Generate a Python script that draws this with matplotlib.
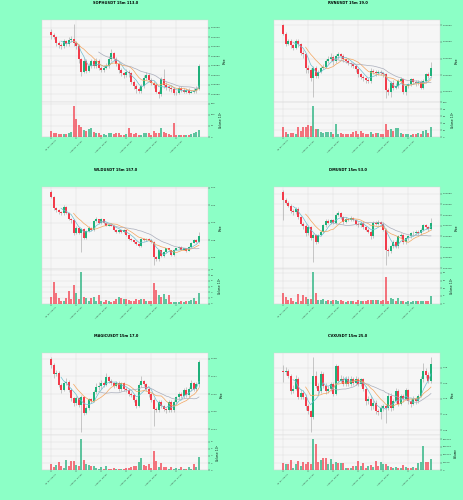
import matplotlib
matplotlib.use('Agg')
import matplotlib.pyplot as plt
import numpy as np
import pandas as pd
from matplotlib.ticker import MultipleLocator, FormatStrFormatter, FixedLocator

# ---------------- data ----------------
date_labels = ['Jul 31, 22:45', 'Aug 01, 01:15', 'Aug 01, 03:45',
               'Aug 01, 06:15', 'Aug 01, 08:45', 'Aug 01, 11:15']

# SOPHUSDT (prices in units of 1e-5, volume in units of 1e3)
soph_open = [4015,4012,4010,4004,4002,4001,4006,4003,4007,4008,
             4004,4001,3987,3974,3985,3975,3980,3985,3980,3985,
             3978,3976,3978,3980,3987,3993,3987,3982,3976,3972,
             3970,3974,3972,3963,3959,3956,3954,3959,3967,3970,
             3965,3962,3960,3953,3950,3966,3960,3958,3957,3956,
             3952,3951,3957,3955,3953,3955,3952,3953,3954,3956]
soph_close = [4012,4010,4004,4002,4001,4006,4003,4007,4008,4004,
              4001,3987,3974,3985,3975,3980,3985,3980,3985,3978,
              3976,3978,3980,3987,3993,3987,3982,3976,3972,3970,
              3974,3972,3963,3959,3956,3954,3959,3967,3970,3965,
              3962,3960,3953,3950,3966,3960,3958,3957,3956,3952,
              3951,3957,3955,3953,3955,3952,3953,3954,3956,3980]
soph_high = [4018,4014,4011,4006,4004,4008,4007,4010,4011,4024,
             4006,4003,3988,3988,3987,3983,3987,3987,3988,3987,
             3980,3981,3983,3990,3998,3994,3989,3984,3978,3974,
             3977,3976,3974,3965,3961,3958,3961,3970,3973,3972,
             3967,3964,3962,3955,3968,3977,3963,3960,3959,3958,
             3954,3959,3959,3957,3957,3957,3955,3957,3959,3982]
soph_low = [4008,4008,4001,3999,3998,3999,4001,4001,4005,4001,
            3998,3983,3969,3972,3972,3974,3978,3978,3978,3976,
            3973,3974,3977,3978,3985,3985,3980,3972,3969,3967,
            3968,3968,3961,3956,3952,3951,3952,3957,3965,3963,
            3960,3957,3951,3946,3948,3957,3955,3954,3953,3949,
            3949,3950,3953,3951,3951,3950,3951,3951,3952,3955]
soph_volume = [25,20,17,14,14,12,14,16,24,141,
               82,55,47,32,28,35,39,22,20,16,
               9,14,9,16,20,14,20,16,9,9,
               14,39,20,12,16,9,9,20,16,16,
               9,28,20,16,39,24,20,12,9,62,
               9,9,9,9,9,9,12,16,24,30]

# RVNUSDT (prices in units of 1e-6, volume in units of 1e5)
rvn_open = [15320,15310,15298,15301,15296,15293,15301,15297,15287,15285,
            15269,15266,15257,15269,15259,15264,15269,15270,15277,15279,
            15282,15277,15283,15285,15283,15279,15277,15275,15273,15271,
            15267,15261,15258,15256,15254,15253,15265,15264,15262,15264,
            15263,15261,15242,15240,15251,15245,15247,15253,15255,15239,
            15247,15249,15255,15252,15250,15252,15245,15253,15261,15259]
rvn_close = [15310,15298,15301,15296,15293,15301,15297,15287,15285,15269,
             15266,15257,15269,15259,15264,15269,15270,15277,15279,15282,
             15277,15283,15285,15283,15279,15277,15275,15273,15271,15267,
             15261,15258,15256,15254,15253,15265,15264,15262,15264,15263,
             15261,15242,15240,15251,15245,15247,15253,15255,15239,15247,
             15249,15255,15252,15250,15252,15245,15253,15261,15259,15268]
rvn_high = [15322,15312,15304,15303,15298,15303,15303,15299,15290,15287,
            15272,15268,15271,15271,15266,15271,15273,15280,15283,15287,
            15284,15285,15288,15287,15285,15280,15279,15276,15274,15272,
            15268,15263,15260,15258,15256,15268,15267,15266,15266,15266,
            15264,15263,15245,15253,15254,15250,15255,15258,15257,15249,
            15251,15257,15257,15254,15254,15254,15255,15263,15264,15276]
rvn_low = [15308,15295,15296,15293,15290,15291,15294,15284,15281,15262,
           15262,15253,15233,15256,15257,15262,15267,15268,15275,15277,
           15272,15275,15280,15280,15276,15274,15272,15270,15268,15264,
           15258,15255,15253,15251,15250,15251,15261,15259,15260,15260,
           15258,15232,15236,15233,15242,15243,15245,15250,15237,15236,
           15245,15247,15249,15247,15248,15243,15243,15251,15256,15257]
rvn_volume = [28,14,8,12,12,10,28,17,29,29,
              35,31,90,24,24,14,12,15,14,14,
              8,38,8,12,8,10,8,8,14,16,
              8,17,12,8,10,14,10,12,12,10,
              10,38,19,24,17,26,26,12,10,8,
              8,6,8,8,12,10,16,20,12,30]

# WLDUSDT (prices in units of 1e-4, volume in units of 1e6)
wld_open = [10356,10296,10165,10146,10124,10109,10184,10109,10045,10034,
            9884,9944,9884,9933,9831,9903,9944,9921,10026,10041,
            10000,10045,9996,9970,9981,9970,9921,9895,9914,9895,
            9914,9858,9820,9801,9783,9756,9734,9820,9801,9820,
            9809,9783,9606,9584,9689,9621,9670,9708,9689,9633,
            9696,9708,9726,9696,9708,9681,9726,9771,9809,9783]
wld_close = [10296,10165,10146,10124,10109,10184,10109,10045,10034,9884,
             9944,9884,9933,9831,9903,9944,9921,10026,10041,10000,
             10045,9996,9970,9981,9970,9921,9895,9914,9895,9914,
             9858,9820,9801,9783,9756,9734,9820,9801,9820,9809,
             9783,9606,9584,9689,9621,9670,9708,9689,9633,9696,
             9708,9726,9696,9708,9681,9726,9771,9809,9783,9846]
wld_high = [10371,10310,10180,10160,10135,10200,10190,10120,10060,10040,
            9960,9955,9945,9940,9915,9960,9955,10035,10065,10050,
            10060,10050,10005,9995,9990,9975,9930,9925,9920,9925,
            9920,9865,9830,9810,9795,9765,9830,9830,9830,9830,
            9815,9790,9620,9700,9695,9680,9715,9715,9695,9705,
            9715,9735,9735,9715,9715,9735,9780,9820,9815,9895]
wld_low = [10280,10150,10120,10100,10090,10095,10100,10030,10000,9860,
           9870,9870,9670,9815,9820,9895,9910,9910,10015,9985,
           9990,9985,9960,9960,9960,9910,9880,9885,9885,9885,
           9845,9805,9790,9770,9745,9720,9725,9790,9790,9795,
           9770,9520,9560,9570,9610,9610,9660,9680,9620,9625,
           9685,9700,9685,9690,9670,9675,9720,9765,9775,9775]
wld_volume = [2.3,7.5,3.8,1.9,1.1,1.1,1.9,4.4,1.7,6.5,
              3.8,1.7,11.0,2.5,1.9,1.1,2.1,2.3,0.8,2.9,
              0.8,0.7,1.3,1.1,0.7,0.8,1.7,2.3,2.1,1.7,
              1.7,1.3,1.1,1.1,1.7,1.3,1.7,1.7,1.1,0.8,
              1.1,7.2,4.7,2.9,2.3,3.5,1.7,2.9,0.7,0.5,
              0.7,0.5,0.8,0.5,0.8,1.1,1.3,1.9,1.1,3.8]

# DMUSDT (prices in units of 1e-5, volume in units of 1e6)
dmu_open = [24655,24635,24629,24622,24610,24607,24614,24595,24580,24574,
            24557,24571,24546,24553,24538,24553,24561,24576,24586,24582,
            24588,24582,24601,24604,24595,24584,24591,24589,24593,24589,
            24580,24576,24582,24572,24566,24561,24550,24582,24580,24584,
            24580,24566,24518,24515,24527,24538,24527,24550,24553,24536,
            24546,24551,24557,24559,24561,24557,24566,24576,24572,24568]
dmu_close = [24635,24629,24622,24610,24607,24614,24595,24580,24574,24557,
             24571,24546,24553,24538,24553,24561,24576,24586,24582,24588,
             24582,24601,24604,24595,24584,24591,24589,24593,24589,24580,
             24576,24582,24572,24566,24561,24550,24582,24580,24584,24580,
             24566,24518,24515,24527,24538,24527,24550,24553,24536,24546,
             24551,24557,24559,24561,24557,24566,24576,24572,24568,24582]
dmu_high = [24658,24640,24632,24626,24614,24618,24618,24598,24584,24578,
            24575,24574,24558,24556,24556,24565,24579,24592,24590,24592,
            24591,24604,24610,24607,24598,24595,24594,24597,24596,24592,
            24583,24585,24585,24575,24569,24564,24586,24585,24588,24587,
            24583,24569,24522,24530,24541,24541,24553,24557,24556,24549,
            24554,24560,24562,24564,24564,24569,24580,24580,24575,24594]
dmu_low = [24588,24625,24618,24606,24600,24603,24590,24576,24568,24552,
           24553,24542,24489,24533,24534,24550,24558,24573,24578,24578,
           24578,24579,24598,24591,24580,24581,24585,24586,24585,24576,
           24572,24573,24568,24562,24557,24545,24546,24576,24577,24576,
           24562,24483,24505,24510,24522,24522,24522,24546,24532,24532,
           24541,24547,24553,24555,24553,24553,24562,24567,24563,24566]
dmu_volume = [7,4.4,2.2,4,1.5,1.1,6.2,1.5,5.5,4.4,
              3.3,3.3,20.3,7,2.6,2.2,3.3,1.5,2.6,1.5,
              2.2,2.2,1.8,2.2,1.5,1.1,1.8,1.5,1.5,1.1,
              2.6,1.5,1.8,1.5,2.2,2.2,2.6,2.2,2.2,1.5,
              2.2,17,1.5,4,3.3,1.5,3.8,1.8,1.5,1.1,
              1.8,1.1,1.8,1.5,1.5,1.8,1.8,1.8,1.8,4.9]

# MAGICUSDT (prices in units of 1e-5, volume in units of 1e6)
magic_open = [14800,14767,14712,14721,14654,14625,14661,14667,14625,14575,
              14548,14575,14539,14581,14493,14521,14570,14563,14612,14639,
              14643,14661,14654,14698,14676,14661,14648,14661,14630,14661,
              14630,14625,14603,14594,14566,14535,14654,14672,14658,14630,
              14599,14566,14515,14511,14557,14530,14515,14508,14557,14508,
              14557,14581,14599,14588,14625,14594,14630,14661,14630,14658]
magic_close = [14767,14712,14721,14654,14625,14661,14667,14625,14575,14548,
               14575,14539,14581,14493,14521,14570,14563,14612,14639,14643,
               14661,14654,14698,14676,14661,14648,14661,14630,14661,14630,
               14625,14603,14594,14566,14535,14654,14672,14658,14630,14599,
               14566,14515,14511,14557,14530,14515,14508,14557,14508,14557,
               14581,14599,14588,14625,14594,14630,14661,14630,14658,14782]
magic_high = [14810,14775,14735,14730,14665,14670,14690,14680,14635,14585,
              14590,14585,14595,14590,14530,14580,14580,14625,14660,14670,
              14680,14675,14720,14705,14685,14670,14672,14672,14670,14670,
              14640,14632,14610,14600,14575,14665,14705,14680,14665,14640,
              14605,14575,14525,14565,14565,14540,14520,14565,14565,14565,
              14590,14610,14610,14635,14640,14640,14680,14670,14670,14795]
magic_low = [14750,14690,14700,14640,14605,14615,14650,14610,14560,14530,
             14540,14525,14387,14480,14485,14510,14550,14555,14600,14625,
             14630,14640,14645,14665,14650,14635,14640,14620,14620,14620,
             14612,14590,14585,14555,14520,14525,14640,14645,14620,14585,
             14555,14420,14500,14500,14520,14505,14495,14500,14500,14500,
             14545,14570,14575,14580,14585,14585,14620,14620,14620,14640]
magic_volume = [1.7,0.8,1.4,2.3,1.2,0.7,2.9,1.3,2.6,2.6,
                1.5,1.2,8.7,2.9,1.8,1.5,1.2,1.2,0.7,0.5,
                1.0,0.5,1.2,0.5,0.3,0.7,0.5,0.5,0.5,0.5,
                0.7,0.7,1.0,1.2,1.3,2.4,3.3,1.4,1.3,1.7,
                0.7,5.4,2.7,1.0,2.1,0.8,1.0,0.5,1.0,0.5,
                0.7,0.5,1.0,0.5,0.5,1.0,0.5,1.7,1.0,3.8]

# CVXUSDT (prices in units of 1e-3, volume in units of 1)
cvx_open = [4240,4235,4240,4224,4175,4183,4213,4157,4170,4157,
            4126,4110,4091,4224,4191,4175,4229,4191,4175,4183,
            4197,4167,4254,4208,4215,4197,4215,4197,4215,4202,
            4215,4197,4213,4183,4142,4150,4126,4137,4110,4107,
            4121,4126,4121,4159,4121,4142,4175,4135,4159,4150,
            4178,4142,4135,4150,4142,4159,4213,4240,4227,4208]
cvx_close = [4235,4240,4224,4175,4183,4213,4157,4170,4157,4126,
             4110,4091,4224,4191,4175,4229,4191,4175,4183,4197,
             4167,4254,4208,4215,4197,4215,4197,4215,4202,4215,
             4197,4213,4183,4142,4150,4126,4137,4110,4107,4121,
             4126,4121,4159,4121,4142,4175,4135,4159,4150,4178,
             4142,4135,4150,4142,4159,4213,4240,4227,4208,4262]
cvx_high = [4257,4252,4245,4230,4195,4225,4220,4180,4178,4165,
            4135,4115,4284,4240,4200,4240,4235,4200,4190,4205,
            4203,4262,4258,4225,4222,4222,4222,4222,4220,4222,
            4220,4218,4218,4190,4160,4158,4145,4145,4118,4130,
            4135,4133,4168,4168,4150,4185,4182,4165,4165,4185,
            4183,4148,4158,4155,4165,4222,4265,4250,4235,4284]
cvx_low = [4205,4225,4218,4165,4170,4178,4150,4150,4150,4115,
           4100,4045,4085,4185,4165,4168,4185,4165,4168,4175,
           4160,4162,4200,4200,4190,4192,4190,4192,4196,4196,
           4190,4192,4175,4130,4135,4115,4118,4100,4098,4085,
           4110,4072,4115,4112,4115,4138,4128,4130,4140,4145,
           4135,4125,4130,4135,4138,4155,4205,4218,4200,4200]
cvx_volume = [45000,40000,40000,66000,13000,40000,62000,28000,56000,40000,
              56000,40000,200000,170000,54000,66000,77000,82000,40000,73000,
              40000,56000,45000,45000,45000,17000,13000,17000,28000,30000,
              62000,28000,49000,13000,28000,34000,24000,62000,28000,56000,
              40000,40000,28000,24000,13000,24000,13000,13000,32000,24000,
              17000,13000,24000,13000,45000,56000,157000,56000,56000,75000]

charts = [
    dict(title='SOPHUSDT 15m 113.0', o=soph_open, h=soph_high, l=soph_low, c=soph_close,
         v=soph_volume, unit=1e-5, pstep=0.0001, pfmt='%.5f', vstep=50, vexp=3),
    dict(title='RVNUSDT 15m 19.0', o=rvn_open, h=rvn_high, l=rvn_low, c=rvn_close,
         v=rvn_volume, unit=1e-6, pstep=0.00002, pfmt='%.5f', vstep=20, vexp=5),
    dict(title='WLDUSDT 15m 157.0', o=wld_open, h=wld_high, l=wld_low, c=wld_close,
         v=wld_volume, unit=1e-4, pstep=0.02, pfmt='%.2f', vstep=2, vexp=6),
    dict(title='DMUSDT 15m 53.0', o=dmu_open, h=dmu_high, l=dmu_low, c=dmu_close,
         v=dmu_volume, unit=1e-5, pstep=0.00025, pfmt='%.5f', vstep=5, vexp=6),
    dict(title='MAGICUSDT 15m 17.0', o=magic_open, h=magic_high, l=magic_low, c=magic_close,
         v=magic_volume, unit=1e-5, pstep=0.001, pfmt='%.3f', vstep=2, vexp=6),
    dict(title='CVXUSDT 15m 25.0', o=cvx_open, h=cvx_high, l=cvx_low, c=cvx_close,
         v=cvx_volume, unit=1e-3, pstep=0.05, pfmt='%.2f', vstep=50000, vexp=None),
]

mav_windows = [5, 10, 20]
mav_colors = ['#6fbfd0', '#f3a55e', '#a9adbb']

# ---------------- style ----------------
UP = '#1fb07a'
DOWN = '#f23b4a'
BG = '#8cffc6'
AXBG = '#f6f6f6'
GRID = '#dedede'

W, H = 464, 500
fig = plt.figure(figsize=(W / 100, H / 100), dpi=100, facecolor=BG)

def frac_rect(x0, y0, x1, y1):
    return [x0 / W, 1 - y1 / H, (x1 - x0) / W, (y1 - y0) / H]

TICK_FS = 1.7
LAB_FS = 1.9

for k, ch in enumerate(charts):
    col, row = k % 2, k // 2
    ox = col * 232
    oy = row * H / 3
    o = np.array(ch['o']) * ch['unit']
    hi = np.array(ch['h']) * ch['unit']
    lo = np.array(ch['l']) * ch['unit']
    c = np.array(ch['c']) * ch['unit']
    v = np.array(ch['v'], dtype=float)
    n = len(c)
    x = np.arange(n)
    up = c >= o
    colors = np.where(up, UP, DOWN)

    axp = fig.add_axes(frac_rect(ox + 42, oy + 20, ox + 208, oy + 102))
    axv = fig.add_axes(frac_rect(ox + 42, oy + 102, ox + 208, oy + 137), sharex=axp)

    for ax in (axp, axv):
        ax.set_facecolor(AXBG)
        for s in ax.spines.values():
            s.set_color('#d8d8d8')
            s.set_linewidth(0.3)
        ax.grid(True, color=GRID, linewidth=0.35)
        ax.set_axisbelow(True)
        ax.yaxis.tick_right()
        ax.yaxis.set_label_position('right')
        ax.tick_params(axis='both', labelsize=TICK_FS, length=1.2, width=0.3,
                       pad=1, colors='#333333')

    # candles
    axp.vlines(x, lo, hi, color='#a0a0a0', linewidth=0.4, zorder=2)
    body_lo = np.minimum(o, c)
    body_h = np.abs(c - o)
    rng = hi.max() - lo.min()
    body_h = np.maximum(body_h, rng * 0.006)
    axp.bar(x, body_h, bottom=body_lo, width=0.82, color=colors, linewidth=0, zorder=3)

    s = pd.Series(c)
    for w, mc in zip(mav_windows, mav_colors):
        axp.plot(x, s.rolling(w).mean().values, color=mc, linewidth=0.5, zorder=4)

    pad = rng * 0.05
    axp.set_ylim(lo.min() - pad, hi.max() + pad)
    axp.yaxis.set_major_locator(MultipleLocator(ch['pstep']))
    axp.yaxis.set_major_formatter(FormatStrFormatter(ch['pfmt']))
    axp.set_ylabel('Price', fontsize=LAB_FS, labelpad=1.5)
    plt.setp(axp.get_xticklabels(), visible=False)
    axp.tick_params(axis='x', length=0)

    # volume
    axv.bar(x, v, width=0.82, color=colors, alpha=0.7, linewidth=0, zorder=3)
    axv.set_ylim(0, v.max() * 1.12)
    axv.yaxis.set_major_locator(MultipleLocator(ch['vstep']))
    if ch['vexp'] is None:
        axv.yaxis.set_major_formatter(FormatStrFormatter('%d'))
        axv.set_ylabel('Volume', fontsize=LAB_FS, labelpad=1.5)
    else:
        axv.yaxis.set_major_formatter(FormatStrFormatter('%g'))
        axv.set_ylabel('Volume  $10^{%d}$' % ch['vexp'], fontsize=LAB_FS, labelpad=1.5)

    axv.set_xlim(-3.6, n - 1 + 3.6)
    axv.xaxis.set_major_locator(FixedLocator(list(range(0, n, 10))))
    axv.set_xticklabels(date_labels[:len(range(0, n, 10))], rotation=45, ha='center')

    fig.text((ox + 116) / W, 1 - (oy + 3) / H, ch['title'], ha='center', va='center',
             fontsize=2.6, fontweight='bold')

fig.savefig('out.png', dpi=100, facecolor=BG)
